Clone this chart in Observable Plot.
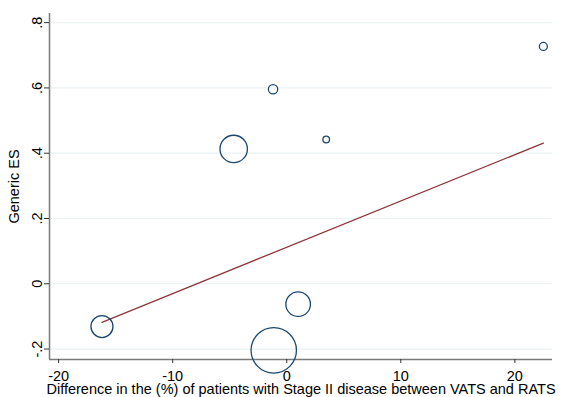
<!DOCTYPE html>
<html>
<head>
<meta charset="utf-8">
<script src="https://cdn.jsdelivr.net/npm/d3@7"></script>
<script src="https://cdn.jsdelivr.net/npm/@observablehq/plot@0.6"></script>
<style>
  html, body { margin: 0; padding: 0; background: #ffffff; }
  #chart svg { overflow: visible; display: block; }
</style>
</head>
<body>
<div id="chart"></div>
<script>
// Study-level data (x = difference in % Stage II, VATS vs RATS; y = generic ES; w = weight)
const studyX = [22.5, -1.2, -4.65, 3.46, -16.2, 1.0, -1.14];
const studyES = [0.727, 0.596, 0.413, 0.442, -0.131, -0.0625, -0.204];
const studyW = [16, 22, 188, 11, 121, 151, 515];

// Fitted meta-regression line endpoints
const fitX = [-16.2, 22.5];
const fitY = [-0.118, 0.431];

// Axis ticks and labels
const xTicks = [-20, -10, 0, 10, 20];
const yTicks = [-0.2, 0, 0.2, 0.4, 0.6, 0.8];
const yTickLabels = ["-.2", "0", ".2", ".4", ".6", ".8"];

const xTitle = "Difference in the (%) of patients with Stage II disease between VATS and RATS";
const yTitle = "Generic ES";

const xDomain = [-20.8, 23.3];
const yDomain = [-0.232, 0.828];

const studies = studyX.map((x, i) => ({x, y: studyES[i], w: studyW[i]}));
const fit = fitX.map((x, i) => ({x, y: fitY[i]}));
const labelOf = new Map(yTicks.map((t, i) => [t, yTickLabels[i]]));

const FONT = 14.5;

const plot = Plot.plot({
  width: 561,
  height: 397,
  marginLeft: 49,
  marginRight: 9,
  marginTop: 13,
  marginBottom: 38,
  style: {fontFamily: "'Liberation Sans', Arial, sans-serif", fontSize: FONT + "px", background: "#ffffff", color: "#000"},
  x: {domain: xDomain},
  y: {domain: yDomain},
  r: {type: "sqrt", domain: [0, 515], range: [0, 22.7]},
  marks: [
    Plot.gridY(yTicks, {stroke: "#eaf2f3", strokeOpacity: 1, strokeWidth: 1.2}),
    Plot.ruleX([xDomain[0]], {y1: yDomain[0], y2: yDomain[1], stroke: "#7a7a7a", strokeWidth: 1.5}),
    Plot.ruleY([yDomain[0]], {x1: xDomain[0], x2: xDomain[1], stroke: "#7a7a7a", strokeWidth: 1.5}),
    Plot.axisX(xTicks, {tickSize: 4, tickPadding: 7.5, stroke: "#333", label: null, tickFormat: d => String(d), fontSize: FONT}),
    Plot.axisY(yTicks, {tickSize: 5, tickPadding: 2.5, tickRotate: -90, stroke: "#333", label: null,
      tickFormat: d => labelOf.get(d), fontSize: FONT}),
    Plot.line(fit, {x: "x", y: "y", stroke: "#90353b", strokeWidth: 1.3}),
    Plot.dot(studies, {x: "x", y: "y", r: "w", stroke: "#1a476f", fill: "none", strokeWidth: 1.3}),
    Plot.text([yTitle], {frameAnchor: "left", dx: -30.5, rotate: -90, lineAnchor: "bottom", textAnchor: "middle", fontSize: FONT, fill: "#000"}),
    Plot.text([xTitle], {frameAnchor: "bottom", dy: 34, lineAnchor: "bottom", textAnchor: "middle", fontSize: FONT, fill: "#000"})
  ]
});
document.getElementById("chart").appendChild(plot);
</script>
</body>
</html>
